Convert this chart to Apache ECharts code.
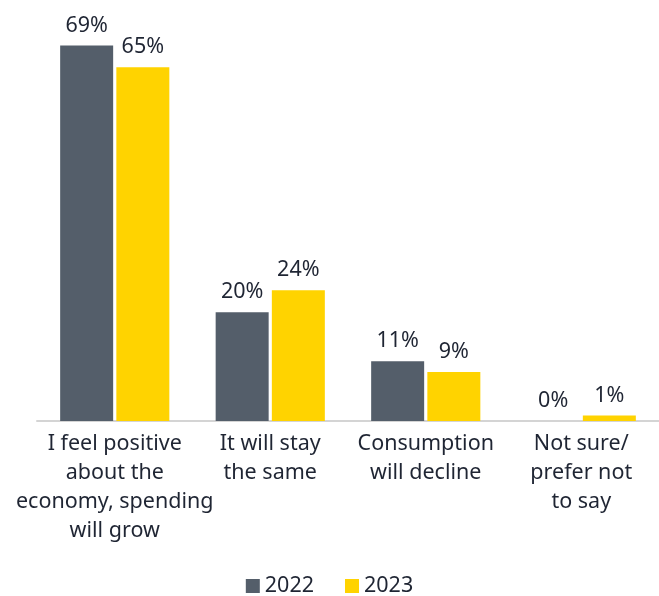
<!DOCTYPE html>
<html><head><meta charset="utf-8">
<script src="https://cdn.jsdelivr.net/npm/echarts@6/dist/echarts.min.js"></script>
<style>html,body{margin:0;padding:0;background:#fff}#c{width:659px;height:596px}</style>
</head><body><div id="c"></div>
<script>
const categories = ["I feel positive\nabout the\neconomy, spending\nwill grow", "It will stay\nthe same", "Consumption\nwill decline", "Not sure/\nprefer not\nto say"];
const seriesNames = ["2022", "2023"];
const values2022 = [69, 20, 11, 0];
const values2023 = [65, 24, 9, 1];

const FONT = "Noto Sans";
const TXT = "#1f2533";
const FS = 21.5;
const chart = echarts.init(document.getElementById('c'), null, {renderer: 'canvas'});
const lbl = {show: true, position: 'top', distance: 9, formatter: '{c}%', color: TXT, fontFamily: FONT, fontSize: FS};
chart.setOption({
  animation: false,
  grid: {left: 37, right: -1, top: 40, bottom: 175, containLabel: false},
  legend: {top: 570, left: 'center', itemWidth: 14, itemHeight: 14, itemGap: 31, itemTextGap: 6, icon: 'rect',
    textStyle: {color: TXT, fontFamily: FONT, fontSize: FS}, data: seriesNames},
  xAxis: {type: 'category', data: categories,
    axisLine: {lineStyle: {color: '#d4d4d4', width: 2}}, axisTick: {show: false},
    axisLabel: {interval: 0, color: TXT, fontFamily: FONT, fontSize: FS, lineHeight: 29, margin: 8}},
  yAxis: {type: 'value', min: 0, max: 70, show: false, splitLine: {show: false}},
  series: [
    {name: seriesNames[0], type: 'bar', data: values2022, itemStyle: {color: '#545e6a'},
      barWidth: 53, barGap: '6%', label: lbl},
    {name: seriesNames[1], type: 'bar', data: values2023, itemStyle: {color: '#ffd300'},
      barWidth: 53, barGap: '6%', label: lbl}
  ]
});
</script></body></html>
